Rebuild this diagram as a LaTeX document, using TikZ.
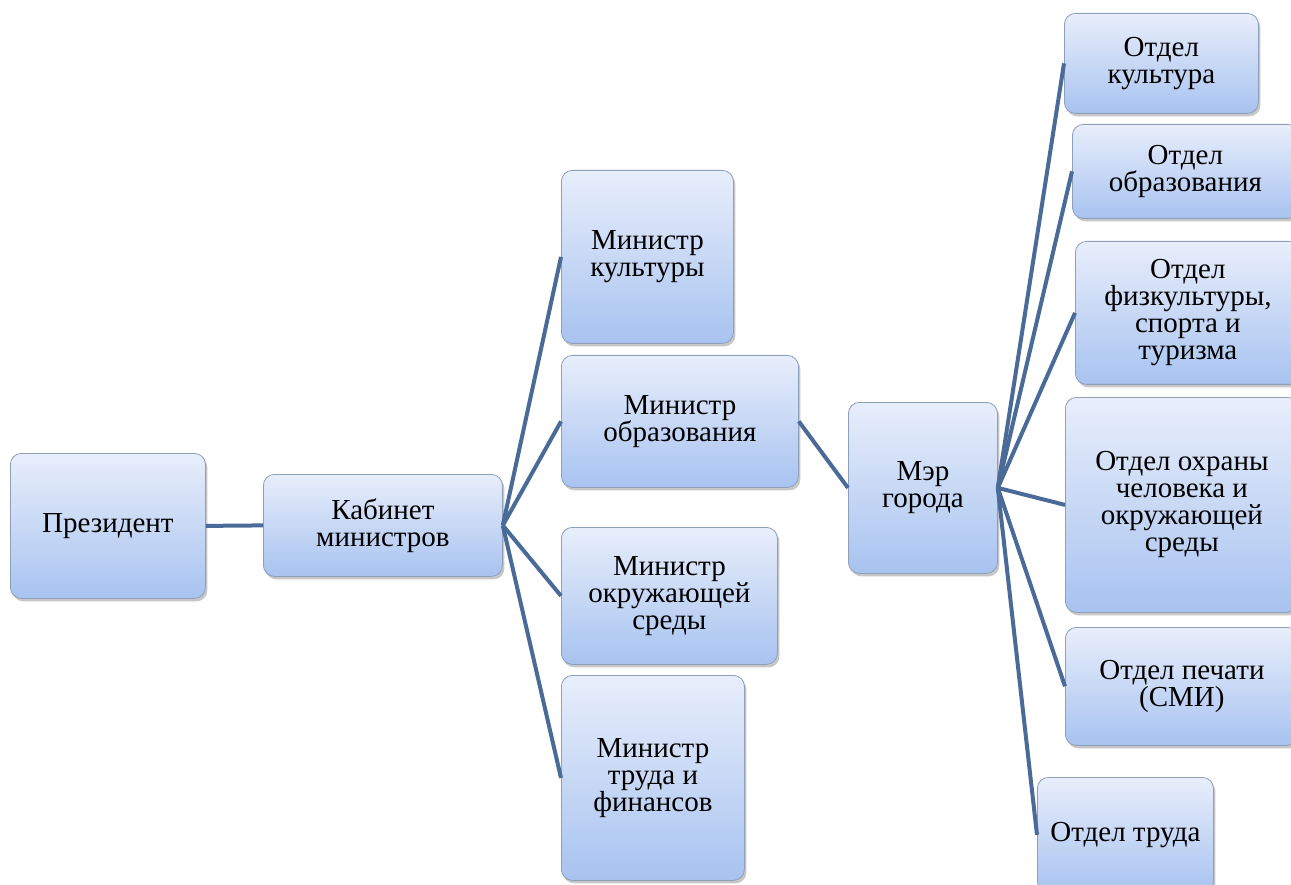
\documentclass[tikz,border=0pt]{standalone}
\usepackage{fontspec}
\setmainfont{Liberation Serif}
\usetikzlibrary{shadows}
\definecolor{boxtop}{HTML}{E8EEFB}
\definecolor{boxbot}{HTML}{A8C3F0}
\definecolor{boxborder}{HTML}{8E9FBA}
\definecolor{linkc}{HTML}{4A6B98}
\tikzset{
  box/.style={draw=boxborder, line width=0.8pt, rounded corners=11pt,
    top color=boxtop, bottom color=boxbot,
    drop shadow={shadow xshift=2pt, shadow yshift=-3pt, opacity=0.4, fill=black!55},
    align=center, inner sep=0pt, anchor=north west,
    font=\fontsize{29}{27}\selectfont},
  link/.style={draw=linkc, line width=4pt}
}
\begin{document}
\begin{tikzpicture}[x=1pt,y=-1pt]
\useasboundingbox (0,0) rectangle (1291,885);
\node[box, minimum width=195pt, minimum height=145pt] (pres) at (10,453) {Президент};
\node[box, minimum width=239pt, minimum height=102pt] (cab) at (263,474) {Кабинет\\министров};
\node[box, minimum width=172pt, minimum height=173pt] (m1) at (561,170) {Министр\\культуры};
\node[box, minimum width=237pt, minimum height=132pt] (m2) at (561,355) {Министр\\образования};
\node[box, minimum width=216pt, minimum height=137pt] (m3) at (561,527) {Министр\\окружающей\\среды};
\node[box, minimum width=183pt, minimum height=205pt] (m4) at (561,675) {Министр\\труда и\\финансов};
\node[box, minimum width=149pt, minimum height=171pt] (mayor) at (848,402) {Мэр\\города};
\node[box, minimum width=194pt, minimum height=100pt] (d1) at (1064,13) {Отдел\\культура};
\node[box, minimum width=226pt, minimum height=94pt] (d2) at (1072,124) {Отдел\\образования};
\node[box, minimum width=225pt, minimum height=143pt] (d3) at (1075,241) {Отдел\\физкультуры,\\спорта и\\туризма};
\node[box, minimum width=233pt, minimum height=215pt] (d4) at (1065,397) {Отдел охраны\\человека и\\окружающей\\среды};
\node[box, minimum width=233pt, minimum height=118pt] (d5) at (1065,627) {Отдел печати\\(СМИ)};
\node[box, minimum width=176pt, minimum height=115pt] (d6) at (1037,777) {Отдел труда};
\draw[link] (pres.east) -- (cab.west);
\foreach \m in {m1,m2,m3,m4} \draw[link] (cab.east) -- (\m.west);
\draw[link] (m2.east) -- (mayor.west);
\foreach \d in {d1,d2,d3,d4,d5,d6} \draw[link] (mayor.east) -- (\d.west);
\end{tikzpicture}
\end{document}
